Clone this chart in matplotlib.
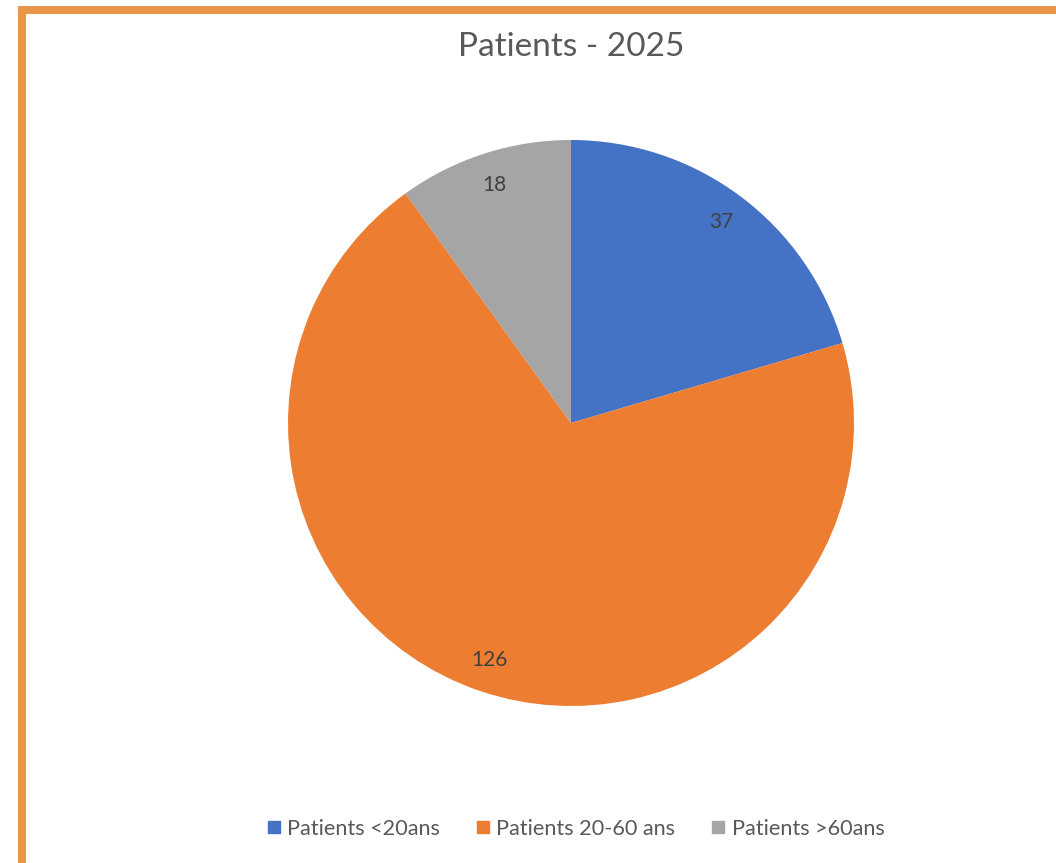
import matplotlib
matplotlib.use("Agg")
import matplotlib.pyplot as plt
from matplotlib.lines import Line2D

categories = ["Patients <20ans", "Patients 20-60 ans", "Patients >60ans"]
values = [37, 126, 18]
colors = ["#4472C4", "#ED7D31", "#A5A5A5"]
title = "Patients - 2025"

plt.rcParams['font.family'] = ['Lato', 'DejaVu Sans']

W, H = 1056, 863
fig = plt.figure(figsize=(W / 100, H / 100), dpi=100)
fig.patch.set_facecolor("white")

# pie axes: center (571, 423) px from top-left, radius 283 px
cx, cy, r = 571, 423, 283
ax = fig.add_axes([(cx - r) / W, (H - cy - r) / H, 2 * r / W, 2 * r / H])
total = sum(values)
wedges, texts, autotexts = ax.pie(
    values, colors=colors, startangle=90, counterclock=False,
    autopct=lambda p: f"{round(p * total / 100):d}", pctdistance=0.885,
    wedgeprops=dict(linewidth=0),
    textprops=dict(color="#404040", fontsize=15))
ax.set_xlim(-1, 1)
ax.set_ylim(-1, 1)
ax.set_aspect("equal")
ax.axis("off")

fig.text(0.5 * (459 + 683) / W, 1 - 47 / H, title, ha="center", va="center",
         fontsize=24, color="#595959")

handles = [Line2D([], [], marker="s", linestyle="none", markersize=9,
                  markerfacecolor=c, markeredgecolor=c) for c in colors]
leg = fig.legend(handles, categories, loc="center", ncol=3,
                 bbox_to_anchor=(576 / W, 1 - 829 / H), frameon=False,
                 fontsize=15.6, handlelength=0.55, handletextpad=0.35,
                 columnspacing=1.7, labelcolor="#595959")

# orange frame (top and left edges)
border = "#E8964A"
fig.add_artist(Line2D([18 / W, 1.0], [1 - 10 / H, 1 - 10 / H],
                      transform=fig.transFigure, color=border, linewidth=5.8,
                      solid_capstyle="butt"))
fig.add_artist(Line2D([22 / W, 22 / W], [0.0, 1 - 6 / H],
                      transform=fig.transFigure, color=border, linewidth=5.8,
                      solid_capstyle="butt"))

fig.savefig("out.png", dpi=100, facecolor="white")
